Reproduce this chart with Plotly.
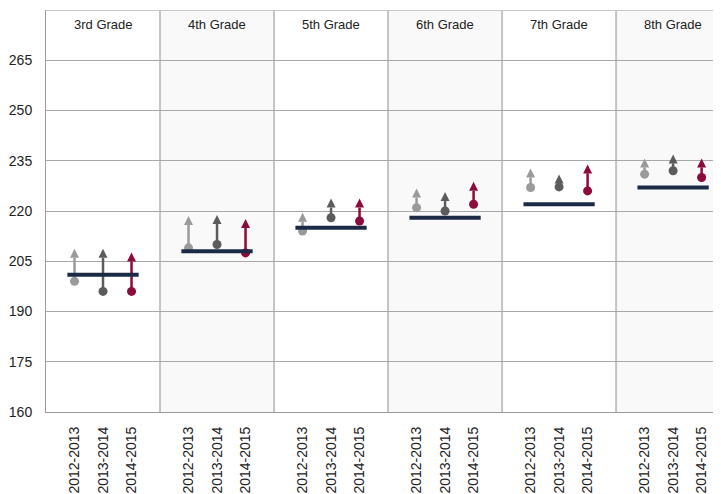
import plotly.graph_objects as go

grades = ["3rd Grade", "4th Grade", "5th Grade", "6th Grade", "7th Grade", "8th Grade"]
years = ["2012-2013", "2013-2014", "2014-2015"]
year_colors = ["#9a9a9a", "#5c5c5c", "#8c0b3b"]

# start (dot) and end (arrow tip) scores per grade, per year
start_2012 = [199, 209, 214, 221, 227, 231]
end_2012 = [208.7, 218.5, 219.5, 226.7, 232.7, 235.7]
start_2013 = [196, 210, 218, 220, 227.2, 232]
end_2013 = [208.7, 218.8, 223.7, 225.7, 230.9, 236.9]
start_2014 = [196, 207.5, 217, 222, 226, 230]
end_2014 = [207.6, 217.6, 223.7, 228.7, 233.9, 235.7]
means = [201, 208, 215, 218, 222, 227]

starts = [start_2012, start_2013, start_2014]
ends = [end_2012, end_2013, end_2014]

y_ticks = [160, 175, 190, 205, 220, 235, 250, 265]
Y_MIN, Y_MAX = 160, 280
X_MAX = 23.68

fig = go.Figure()

# arrows
for gi in range(len(grades)):
    for yi in range(len(years)):
        xpos = 4 * gi + 1 + yi
        fig.add_trace(go.Scatter(
            x=[xpos, xpos], y=[starts[yi][gi], ends[yi][gi]],
            mode="lines+markers",
            line=dict(color=year_colors[yi], width=2.5),
            marker=dict(symbol=["circle", "arrow-up"], size=[9, 9], opacity=1,
                        color=year_colors[yi], line=dict(width=0)),
            showlegend=False, hoverinfo="skip",
        ))

# mean lines
mx, my = [], []
for gi, m in enumerate(means):
    mx += [4 * gi + 0.75, 4 * gi + 3.25, None]
    my += [m, m, None]
fig.add_trace(go.Scatter(x=mx, y=my, mode="lines",
                         line=dict(color="#1c2a46", width=4),
                         showlegend=False, hoverinfo="skip"))

shapes = []
for gi in range(len(grades)):
    if gi % 2 == 1:
        shapes.append(dict(type="rect", xref="x", yref="y", x0=4 * gi, x1=min(4 * gi + 4, X_MAX),
                           y0=Y_MIN, y1=Y_MAX, fillcolor="#f9f9f9", line=dict(width=0), layer="below"))
for gi in range(1, len(grades)):
    shapes.append(dict(type="line", xref="x", yref="y", x0=4 * gi, x1=4 * gi, y0=Y_MIN, y1=Y_MAX,
                       line=dict(color="#c4c4c4", width=2), layer="below"))
shapes.append(dict(type="line", xref="paper", yref="y", x0=0, x1=1, y0=Y_MAX, y1=Y_MAX,
                   line=dict(color="#c8c8c8", width=2)))

annotations = [dict(x=4 * gi + 2, y=275.6, xref="x", yref="y", text=g, showarrow=False,
                    font=dict(size=13, color="#222222"))
               for gi, g in enumerate(grades)]

tickvals, ticktext = [], []
for gi in range(len(grades)):
    for yi, yr in enumerate(years):
        tickvals.append(4 * gi + 1 + yi)
        ticktext.append(yr)

# the page body has an 8px margin, so the figure is sized to fill the rest of the window
fig.update_layout(
    width=713, height=486,
    margin=dict(l=38, r=0, t=2, b=82, autoexpand=False),
    paper_bgcolor="white", plot_bgcolor="white",
    font=dict(family="Liberation Sans, Arial, sans-serif", color="#222222"),
    shapes=shapes, annotations=annotations,
    xaxis=dict(range=[0, X_MAX], tickvals=tickvals, ticktext=ticktext, tickangle=-90,
               showgrid=False, zeroline=False, showline=True, linecolor="#9a9a9a", linewidth=1,
               tickfont=dict(size=14, color="#222222"), ticks="", ticklabelstandoff=8),
    yaxis=dict(range=[Y_MIN, Y_MAX], tickvals=y_ticks, showgrid=True, gridcolor="#a8a8a8",
               gridwidth=1, zeroline=False, showline=True, linecolor="#9a9a9a", linewidth=1,
               tickfont=dict(size=14, color="#222222"), ticks="", ticklabelstandoff=10),
)

fig.write_html("out.html")
